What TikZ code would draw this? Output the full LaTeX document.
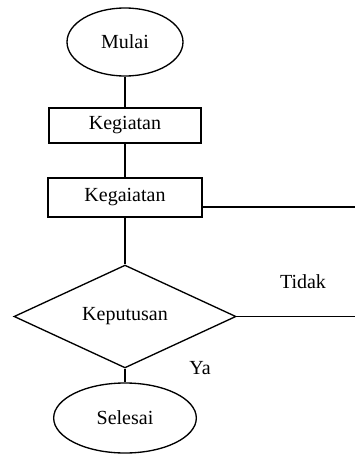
\documentclass[tikz,border=0pt]{standalone}
\usepackage{fontspec}
\setmainfont{Liberation Serif}
\usetikzlibrary{shapes.geometric}

\tikzset{every picture/.style={line width=1pt}}

\begin{document}
\begin{tikzpicture}[x=0.75pt,y=0.75pt,yscale=-1,xscale=1,
  font=\fontsize{15}{18}\selectfont,
  terminal/.style={draw,ellipse,inner sep=0pt},
  kotak/.style={draw,rectangle,inner sep=0pt},
  pilihan/.style={draw,diamond,inner sep=0pt}]
\useasboundingbox (0,0) rectangle (355,454);

% Shapes
\node [terminal,minimum width=87pt,minimum height=51pt] (mulai) at (125,42) {Mulai};
\node [kotak,minimum width=114pt,minimum height=26.25pt] (giat1) at (125,125.5) {Kegiatan};
\node [kotak,minimum width=115.5pt,minimum height=29.25pt] (giat2) at (125,197.5) {Kegaiatan};
\node [pilihan,minimum width=166.5pt,minimum height=65.25pt] (putus) at (125,316.5) {Keputusan};
\node [terminal,minimum width=107pt,minimum height=52.5pt] (selesai) at (125,418) {Selesai};

% Free ends at the right edge
\coordinate (kanan1) at (355,207);
\coordinate (kanan2) at (355,316.5);

% Straight Lines
\draw (mulai.south) -- (giat1.north);
\draw (giat1.south) -- (giat2.north);
\draw (giat2.south) -- (putus.north);
\draw (putus.south) -- (selesai.north);
\draw (giat2.east |- kanan1) -- (kanan1);
\draw (putus.east) -- (kanan2);

% Text Node
\node (tidak) at (303,282) {Tidak};
% Text Node
\node (ya) at (200,368) {Ya};

\end{tikzpicture}
\end{document}
